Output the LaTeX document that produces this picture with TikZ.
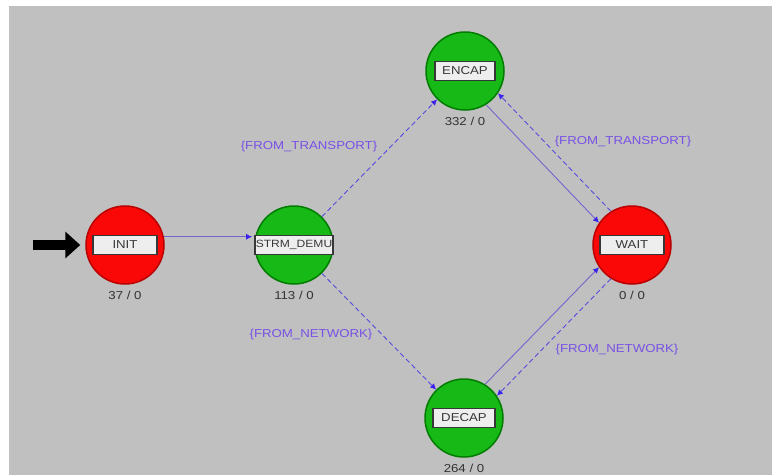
\documentclass[tikz,border=0pt]{standalone}
\usepackage{fontspec}
\setmainfont{Liberation Sans}[FakeStretch=1.15]
\usetikzlibrary{arrows.meta}
\pgfdeclarelayer{bg}
\pgfsetlayers{bg,main}
\definecolor{panel}{RGB}{192,192,192}
\definecolor{stred}{RGB}{250,8,8}
\definecolor{stredline}{RGB}{185,0,0}
\definecolor{stgreen}{RGB}{22,185,22}
\definecolor{stgreenline}{RGB}{0,125,0}
\definecolor{boxfill}{RGB}{238,238,238}
\definecolor{boxline}{RGB}{55,55,55}
\definecolor{transcol}{RGB}{115,100,205}
\definecolor{condtrans}{RGB}{85,75,220}
\definecolor{tipcol}{RGB}{60,35,235}
\definecolor{condcol}{RGB}{120,80,230}

\begin{document}
\begin{tikzpicture}[x=1pt,y=-1pt,
        state/.style={circle,minimum size=78pt,inner sep=0pt,line width=1.5pt},
        forced/.style={state,fill=stred,draw=stredline},
        unforced/.style={state,fill=stgreen,draw=stgreenline},
        namebox/.style={draw=boxline,fill=boxfill,line width=1.2pt,minimum width=64pt,
                minimum height=19pt,inner xsep=4pt,inner ysep=0pt,text=boxline,
                font=\fontsize{11.5}{12}\selectfont},
        count/.style={text=black!80,inner sep=1pt,label distance=5pt,
                font=\fontsize{11.5}{12}\selectfont},
        cond/.style={text=condcol,inner sep=1pt,font=\fontsize{11.5}{13}\selectfont},
        trans/.style={draw=transcol,line width=0.9pt,-{Latex[length=6pt,width=6pt,color=tipcol]}},
        ctrans/.style={trans,draw=condtrans,dash pattern=on 5pt off 3pt}]
        \useasboundingbox (0,0) rectangle (772,475);
        \node (init) [forced,label={[count]below:37 / 0}] at (125,245) {};
        \node (demu) [unforced,label={[count]below:113 / 0}] at (294,245) {};
        \node (encap) [unforced,label={[count]below:332 / 0}] at (465,71) {};
        \node (wait) [forced,label={[count]below:0 / 0}] at (632,245) {};
        \node (decap) [unforced,label={[count]below:264 / 0}] at (464,418) {};
        \node (initname) [namebox] at (init) {INIT};
        \node (demuname) [namebox,minimum width=78pt,inner xsep=0pt,
                font=\fontsize{10.5}{12}\selectfont] at (demu) {STRM\_DEMU};
        \node (encapname) [namebox,minimum width=60pt] at (encap) {ENCAP};
        \node (waitname) [namebox] at (wait) {WAIT};
        \node (decapname) [namebox,minimum width=62pt] at (decap) {DECAP};
        \node (c0) [cond] at (309,147) {\{FROM\_TRANSPORT\}};
        \node (c1) [cond] at (623,142) {\{FROM\_TRANSPORT\}};
        \node (c2) [cond] at (311,335) {\{FROM\_NETWORK\}};
        \node (c3) [cond] at (617,350) {\{FROM\_NETWORK\}};
        \coordinate (start) at (33,245);
        \draw [line width=10pt,shorten >=5pt,-{Triangle[length=15pt,width=26pt]}] (start) -- (init);
        \begin{pgfonlayer}{bg}
                \fill[panel] (9,6) rectangle (772,475);
                \draw (init.12) edge [trans,shorten >=3pt] (demu.168);
                \draw (demu) edge [ctrans] (encap);
                \draw (demu) edge [ctrans] (decap);
                \draw (encap.-58) edge [trans] (wait.146);
                \draw (wait.122) edge [ctrans] (encap.-34);
                \draw (decap.58) edge [trans] (wait.-146);
                \draw (wait.-122) edge [ctrans] (decap.34);
        \end{pgfonlayer}
\end{tikzpicture}
\end{document}
